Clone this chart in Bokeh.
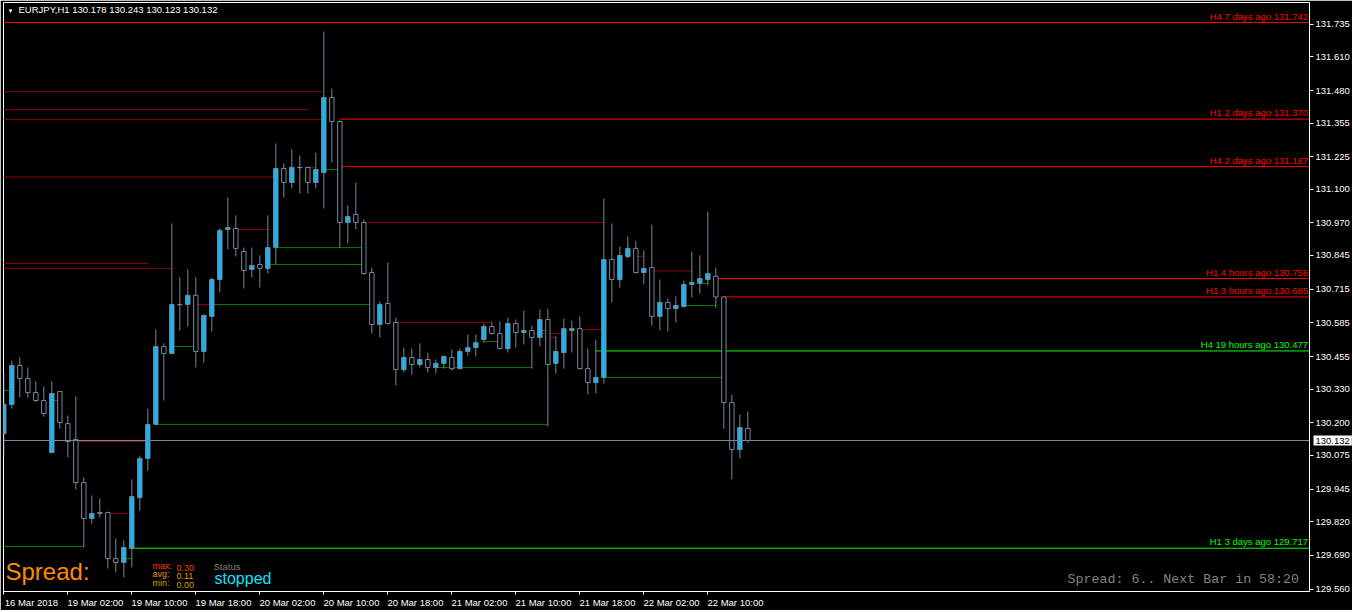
from bokeh.plotting import figure
from bokeh.models import (FixedTicker, Range1d, Label, ColumnDataSource,
                          PrintfTickFormatter, Span)
from bokeh.core.properties import value
from bokeh.embed import file_html
from bokeh.resources import INLINE

# ---------------- data ----------------
symbol_title = "EURJPY,H1  130.178 130.243 130.123 130.132"

opens = [130.159, 130.271, 130.421, 130.371, 130.317, 130.286, 130.086, 130.321, 130.197, 130.136,
         129.970, 129.832, 129.855, 129.855, 129.677, 129.662, 129.716, 129.912, 130.063, 130.194,
         130.494, 130.467, 130.656, 130.656, 130.691, 130.475, 130.610, 130.752, 130.945, 130.949,
         130.860, 130.791, 130.810, 130.795, 130.875, 131.180, 131.126, 131.184, 131.184, 131.126,
         131.164, 131.453, 131.361, 130.972, 131.003, 130.972, 130.779, 130.579, 130.660, 130.587,
         130.405, 130.452, 130.425, 130.444, 130.413, 130.429, 130.452, 130.409, 130.475, 130.490,
         130.521, 130.571, 130.544, 130.486, 130.583, 130.548, 130.556, 130.529, 130.598, 130.429,
         130.471, 130.556, 130.563, 130.409, 130.355, 130.375, 130.829, 130.752, 130.841, 130.872,
         130.779, 130.798, 130.610, 130.664, 130.640, 130.648, 130.733, 130.737, 130.752, 130.765,
         130.685, 130.278, 130.097, 130.178]
highs = [130.390, 130.440, 130.452, 130.413, 130.359, 130.340, 130.359, 130.323, 130.228, 130.302,
         129.989, 129.920, 129.909, 129.857, 129.755, 129.747, 129.982, 130.074, 130.255, 130.560,
         130.506, 130.968, 130.760, 130.791, 130.760, 130.617, 130.760, 130.949, 131.068, 130.999,
         130.875, 130.875, 130.845, 130.999, 131.276, 131.199, 131.253, 131.230, 131.188, 131.241,
         131.707, 131.488, 131.365, 131.037, 131.126, 130.983, 130.798, 130.667, 130.818, 130.606,
         130.490, 130.486, 130.506, 130.471, 130.444, 130.459, 130.483, 130.486, 130.540, 130.540,
         130.583, 130.590, 130.590, 130.606, 130.598, 130.633, 130.575, 130.637, 130.640, 130.533,
         130.602, 130.594, 130.610, 130.486, 130.521, 131.064, 130.968, 130.879, 130.918, 130.902,
         130.864, 130.964, 130.752, 130.679, 130.687, 130.748, 130.860, 130.845, 131.014, 130.798,
         130.687, 130.309, 130.232, 130.243]
lows = [130.074, 130.255, 130.298, 130.298, 130.280, 130.224, 130.082, 130.178, 130.067, 129.943,
        129.720, 129.812, 129.835, 129.639, 129.624, 129.604, 129.643, 129.862, 130.016, 130.192,
        130.286, 130.465, 130.556, 130.571, 130.413, 130.432, 130.552, 130.702, 130.868, 130.841,
        130.718, 130.760, 130.721, 130.775, 130.810, 131.068, 131.103, 131.083, 131.083, 131.103,
        131.026, 131.203, 130.875, 130.891, 130.945, 130.771, 130.544, 130.529, 130.579, 130.344,
        130.394, 130.386, 130.413, 130.394, 130.390, 130.409, 130.402, 130.405, 130.459, 130.456,
        130.509, 130.540, 130.483, 130.471, 130.490, 130.502, 130.409, 130.494, 130.186, 130.390,
        130.409, 130.471, 130.405, 130.309, 130.313, 130.352, 130.664, 130.721, 130.833, 130.775,
        130.733, 130.575, 130.556, 130.552, 130.587, 130.644, 130.683, 130.698, 130.729, 130.644,
        130.178, 129.982, 130.063, 130.123]
closes = [130.271, 130.421, 130.371, 130.317, 130.286, 130.236, 130.313, 130.201, 130.128, 129.970,
          129.832, 129.851, 129.851, 129.677, 129.662, 129.720, 129.916, 130.063, 130.194, 130.494,
          130.467, 130.656, 130.655, 130.691, 130.475, 130.614, 130.752, 130.941, 130.952, 130.872,
          130.787, 130.806, 130.795, 130.875, 131.180, 131.126, 131.184, 131.183, 131.126, 131.176,
          131.453, 131.361, 130.972, 130.995, 130.972, 130.775, 130.579, 130.656, 130.583, 130.405,
          130.452, 130.425, 130.444, 130.413, 130.429, 130.456, 130.409, 130.475, 130.490, 130.509,
          130.571, 130.544, 130.486, 130.583, 130.548, 130.556, 130.529, 130.598, 130.425, 130.475,
          130.563, 130.563, 130.409, 130.355, 130.375, 130.829, 130.752, 130.845, 130.872, 130.779,
          130.795, 130.610, 130.664, 130.640, 130.652, 130.733, 130.741, 130.756, 130.775, 130.685,
          130.278, 130.097, 130.182, 130.132]

time_tick_bars = [0, 8, 16, 24, 32, 40, 48, 56, 64, 72, 80, 88]
time_tick_labels = ["16 Mar 2018", "19 Mar 02:00", "19 Mar 10:00", "19 Mar 18:00",
                    "20 Mar 02:00", "20 Mar 10:00", "20 Mar 18:00", "21 Mar 02:00",
                    "21 Mar 10:00", "21 Mar 18:00", "22 Mar 02:00", "22 Mar 10:00"]
price_ticks = [131.735, 131.610, 131.480, 131.355, 131.225, 131.100, 130.970, 130.845,
               130.715, 130.585, 130.455, 130.330, 130.200, 130.075, 129.945, 129.820,
               129.690, 129.560]

# labelled (active) levels, drawn to the right edge
level_prices = [131.742, 131.370, 131.187, 130.756, 130.685, 130.477, 129.717]
level_texts = ["H4 7 days ago 131.742", "H1 2 days ago 131.370", "H4 2 days ago 131.187",
               "H1 4 hours ago 130.756", "H1 3 hours ago 130.685", "H4 19 hours ago 130.477",
               "H1 3 days ago 129.717"]
level_start_bars = [-1, 42, 42, 89, 90, 74, 16]
level_kinds = ["res", "res", "res", "res", "res", "sup", "sup"]

# broken (inactive) levels: price, first bar, last bar
broken_res_prices = [131.476, 131.407, 131.369, 131.147, 130.945, 130.814, 130.795, 130.972,
                     130.587, 130.559, 130.544, 130.529, 130.785, 130.841, 130.128, 129.851,
                     130.656, 131.184]
broken_res_start = [-1, -1, -1, -1, 29, -1, -1, 45, 49, 72, 66, 68, 81, 79, 9, 13, 24, 38]
broken_res_end = [40, 38, 40, 34, 33, 18, 21, 75, 61, 75, 70, 69, 86, 80, 18, 16, 26, 39]

broken_sup_prices = [130.494, 130.656, 130.194, 129.724, 130.875, 130.810, 131.176, 130.413,
                     130.513, 130.375, 130.652, 130.737, 130.556, 130.325, 130.286, 129.677]
broken_sup_start = [21, 26, 19, -1, 34, 33, 40, 54, 60, 75, 85, 87, 67, 0, 6, 15]
broken_sup_end = [24, 46, 68, 10, 45, 45, 42, 66, 62, 90, 89, 88, 68, 1, 7, 16]

spread_max, spread_avg, spread_min = "0.30", "0.11", "0.00"
status_text = "stopped"
footer_text = "Spread: 6.. Next Bar in 58:20"

# ---------------- style ----------------
BG = "black"
FG = "white"
CANDLE_LINE = "#778899"
BULL_FILL = "#19B5F2"
BEAR_FILL = "black"
RES_STRONG, RES_WEAK = "#FF0000", "#8B0000"
SUP_STRONG, SUP_WEAK = "#00FF00", "#008000"
FONT = "Liberation Sans"
FRAME_W, FRAME_H = 1306, 589

X_START, X_END = -0.04, 163.2
Y_START, Y_END = 129.5504, 131.8192

p = figure(frame_width=FRAME_W, frame_height=FRAME_H,
           x_range=Range1d(X_START, X_END), y_range=Range1d(Y_START, Y_END),
           y_axis_location="right", output_backend="svg", toolbar_location=None,
           background_fill_color=BG, border_fill_color=BG, outline_line_color=FG,
           min_border_left=3, min_border_top=2, min_border_right=0, min_border_bottom=0)
p.grid.visible = False

# levels
p.segment(x0=broken_res_start, x1=broken_res_end, y0=broken_res_prices, y1=broken_res_prices,
          line_color=RES_WEAK, line_width=1)
p.segment(x0=broken_sup_start, x1=broken_sup_end, y0=broken_sup_prices, y1=broken_sup_prices,
          line_color=SUP_WEAK, line_width=1)
lvl_colors = [RES_STRONG if k == "res" else SUP_STRONG for k in level_kinds]
lvl_src = ColumnDataSource(dict(x0=level_start_bars, x1=[X_END + 1] * len(level_prices),
                                y=level_prices, xt=[X_END] * len(level_prices),
                                text=level_texts, color=lvl_colors))
p.segment(x0="x0", x1="x1", y0="y", y1="y", line_color="color", line_width=1, source=lvl_src)
p.text(x="xt", y="y", text="text", text_color="color", text_align="right",
       text_baseline="bottom", x_offset=-1.5, y_offset=-1,
       text_font=value(FONT), text_font_size="9.5px", source=lvl_src)

# bid line
bid = closes[-1]
p.add_layout(Span(location=bid, dimension="width", line_color=CANDLE_LINE, line_width=1))

# candles
bars = list(range(len(opens)))
tops = [max(o, c) for o, c in zip(opens, closes)]
bottoms = [min(o, c) for o, c in zip(opens, closes)]
fills = [BULL_FILL if c > o else BEAR_FILL for o, c in zip(opens, closes)]
src = ColumnDataSource(dict(x=bars, high=highs, low=lows, top=tops, bottom=bottoms, fill=fills))
p.segment(x0="x", x1="x", y0="low", y1="high", line_color=CANDLE_LINE, line_width=1, source=src)
p.vbar(x="x", width=0.55, top="top", bottom="bottom", fill_color="fill",
       line_color=CANDLE_LINE, line_width=1, source=src)

# y axis (right)
ya = p.yaxis[0]
ya.ticker = FixedTicker(ticks=price_ticks)
ya.formatter = PrintfTickFormatter(format="%.3f")
ya.axis_line_color = FG
ya.major_tick_line_color = FG
ya.minor_tick_line_color = None
ya.major_tick_out = 4
ya.major_tick_in = 0
ya.major_label_standoff = 2
ya.major_label_text_color = FG
ya.major_label_text_font = FONT
ya.major_label_text_font_size = "9.5px"

# x axis: tick marks (minor ticks) at bar positions, labels left-aligned after them
shift = 3.45
lab_ticks = [b + shift for b in time_tick_bars]
xa = p.xaxis[0]
xa.ticker = FixedTicker(ticks=lab_ticks, minor_ticks=time_tick_bars)
xa.major_label_overrides = {t: s for t, s in zip(lab_ticks, time_tick_labels)}
xa.axis_line_color = FG
xa.major_tick_line_color = None
xa.major_tick_out = 0
xa.major_tick_in = 0
xa.minor_tick_line_color = FG
xa.minor_tick_out = 3
xa.minor_tick_in = 0
xa.major_label_standoff = 2
xa.major_label_text_color = FG
xa.major_label_text_font = FONT
xa.major_label_text_font_size = "9.5px"

# bid price tag on the price scale (placed in the right side panel so it is not clipped)
p.add_layout(Label(x=X_END, y=bid, x_offset=4, text="%.3f" % bid, padding=2,
                   text_color="black", text_align="left", text_baseline="middle",
                   background_fill_color="white", text_font=FONT, text_font_size="9.5px"),
             "right")

# title
p.add_layout(Label(x=X_START, y=Y_END, x_offset=4, y_offset=-11, text="\u25BC",
                   text_color=FG, text_font=FONT, text_font_size="6px"))
p.add_layout(Label(x=X_START, y=Y_END, x_offset=15, y_offset=-12.5, text=symbol_title,
                   text_color=FG, text_font=FONT, text_font_size="9.5px"))

# spread panel
p.add_layout(Label(x=X_START, y=Y_START, x_offset=2, y_offset=6.5, text="Spread:",
                   text_color="#FF8C00", text_font=FONT, text_font_size="24px"))
for lab, val, col, dy in [("max:", spread_max, "#FF3C00", 21),
                          ("avg:", spread_avg, "#E69500", 12.5),
                          ("min:", spread_min, "#C8A000", 4)]:
    p.add_layout(Label(x=X_START, y=Y_START, x_offset=149, y_offset=dy, text=lab,
                       text_color=col, text_font=FONT, text_font_size="9px"))
    p.add_layout(Label(x=X_START, y=Y_START, x_offset=173, y_offset=dy, text=val,
                       text_color=col, text_font=FONT, text_font_size="9px"))
p.add_layout(Label(x=X_START, y=Y_START, x_offset=210, y_offset=20, text="Status",
                   text_color="#808080", text_font=FONT, text_font_size="9.5px"))
p.add_layout(Label(x=X_START, y=Y_START, x_offset=211, y_offset=5, text=status_text,
                   text_color="#14E1FF", text_font=FONT, text_font_size="16px"))
p.add_layout(Label(x=X_END, y=Y_START, x_offset=-10.5, y_offset=4.3, text=footer_text,
                   text_align="right", text_color="#828282", text_font="Liberation Mono",
                   text_font_size="13.3px"))

open("out.html", "w").write(file_html(p, INLINE))
